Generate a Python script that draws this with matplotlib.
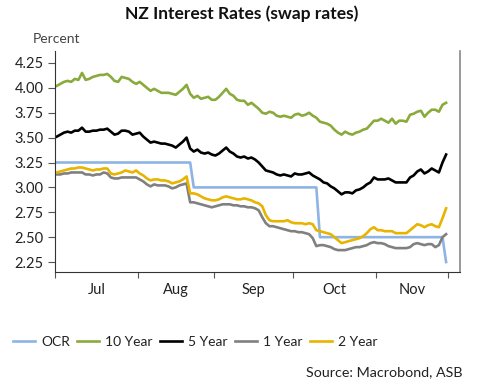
import matplotlib
matplotlib.use("Agg")
import matplotlib.pyplot as plt
import numpy as np
import pandas as pd

# business days, 1 Jul 2025 onwards
dates = pd.bdate_range("2025-07-01", periods=109)

ocr = [3.25] * 38 + [3.00] * 35 + [2.50] * 35 + [2.25] * 1

ten_year = [
    4.02, 4.04, 4.06, 4.07, 4.06, 4.09, 4.08, 4.15, 4.08, 4.09,
    4.11, 4.12, 4.13, 4.13, 4.14, 4.11, 4.07, 4.06, 4.11, 4.10,
    4.09, 4.06, 4.04, 4.06, 4.03, 4.00, 3.97, 3.99, 3.97, 3.95,
    3.95, 3.95, 3.94, 3.93, 3.96, 3.99, 4.03, 3.94, 3.90, 3.92,
    3.89, 3.90, 3.91, 3.88, 3.88, 3.91, 3.95, 3.99, 3.94, 3.92,
    3.88, 3.87, 3.87, 3.83, 3.85, 3.82, 3.79, 3.75, 3.74, 3.76,
    3.75, 3.72, 3.71, 3.72, 3.71, 3.70, 3.73, 3.74, 3.72, 3.73,
    3.75, 3.72, 3.70, 3.66, 3.65, 3.64, 3.62, 3.58, 3.55, 3.53,
    3.56, 3.54, 3.53, 3.55, 3.56, 3.58, 3.59, 3.63, 3.67, 3.67,
    3.69, 3.67, 3.65, 3.69, 3.64, 3.67, 3.67, 3.66, 3.73, 3.74,
    3.76, 3.77, 3.71, 3.75, 3.78, 3.78, 3.76, 3.83, 3.85,
]

five_year = [
    3.51, 3.53, 3.55, 3.56, 3.55, 3.57, 3.57, 3.60, 3.56, 3.56,
    3.57, 3.57, 3.58, 3.58, 3.59, 3.56, 3.53, 3.54, 3.57, 3.57,
    3.56, 3.53, 3.54, 3.55, 3.51, 3.48, 3.45, 3.46, 3.45, 3.44,
    3.44, 3.43, 3.42, 3.40, 3.43, 3.46, 3.50, 3.39, 3.36, 3.38,
    3.35, 3.34, 3.35, 3.33, 3.32, 3.34, 3.37, 3.40, 3.36, 3.34,
    3.31, 3.30, 3.31, 3.29, 3.30, 3.28, 3.25, 3.21, 3.17, 3.16,
    3.15, 3.13, 3.12, 3.13, 3.12, 3.11, 3.14, 3.13, 3.13, 3.14,
    3.15, 3.12, 3.10, 3.08, 3.05, 3.04, 3.01, 2.99, 2.96, 2.93,
    2.95, 2.95, 2.94, 2.97, 2.98, 3.00, 3.03, 3.05, 3.10, 3.08,
    3.08, 3.08, 3.09, 3.07, 3.05, 3.05, 3.05, 3.05, 3.10, 3.12,
    3.16, 3.18, 3.14, 3.16, 3.19, 3.17, 3.15, 3.25, 3.33,
]

one_year = [
    3.13, 3.13, 3.14, 3.14, 3.15, 3.15, 3.15, 3.15, 3.13, 3.13,
    3.12, 3.13, 3.13, 3.15, 3.14, 3.10, 3.09, 3.09, 3.10, 3.10,
    3.10, 3.10, 3.10, 3.08, 3.06, 3.03, 3.01, 3.03, 3.02, 3.02,
    3.02, 3.01, 2.99, 3.00, 3.02, 3.03, 3.04, 2.85, 2.85, 2.84,
    2.83, 2.82, 2.81, 2.80, 2.81, 2.82, 2.83, 2.83, 2.83, 2.82,
    2.82, 2.81, 2.81, 2.80, 2.80, 2.79, 2.77, 2.70, 2.64, 2.61,
    2.61, 2.60, 2.59, 2.58, 2.57, 2.56, 2.56, 2.55, 2.55, 2.54,
    2.53, 2.49, 2.41, 2.42, 2.42, 2.41, 2.40, 2.38, 2.37, 2.37,
    2.37, 2.38, 2.39, 2.40, 2.40, 2.41, 2.42, 2.44, 2.45, 2.44,
    2.44, 2.43, 2.41, 2.40, 2.39, 2.39, 2.39, 2.39, 2.40, 2.43,
    2.44, 2.43, 2.42, 2.43, 2.43, 2.40, 2.42, 2.50, 2.53,
]

two_year = [
    3.15, 3.16, 3.17, 3.18, 3.19, 3.19, 3.20, 3.20, 3.19, 3.18,
    3.17, 3.18, 3.18, 3.19, 3.19, 3.14, 3.13, 3.14, 3.15, 3.17,
    3.16, 3.15, 3.17, 3.14, 3.12, 3.09, 3.07, 3.08, 3.08, 3.07,
    3.07, 3.06, 3.04, 3.05, 3.06, 3.08, 3.11, 2.94, 2.94, 2.93,
    2.91, 2.89, 2.88, 2.87, 2.87, 2.88, 2.90, 2.91, 2.90, 2.89,
    2.88, 2.88, 2.89, 2.88, 2.87, 2.85, 2.84, 2.81, 2.72, 2.67,
    2.66, 2.66, 2.66, 2.66, 2.67, 2.65, 2.64, 2.64, 2.64, 2.63,
    2.64, 2.63, 2.57, 2.56, 2.55, 2.54, 2.53, 2.50, 2.47, 2.44,
    2.45, 2.46, 2.47, 2.48, 2.49, 2.51, 2.54, 2.58, 2.60, 2.57,
    2.57, 2.56, 2.56, 2.56, 2.54, 2.54, 2.54, 2.54, 2.57, 2.60,
    2.63, 2.62, 2.60, 2.62, 2.63, 2.61, 2.60, 2.69, 2.79,
]

series = [
    ("OCR", ocr, "#8EB4E3"),
    ("10 Year", ten_year, "#8AAA3C"),
    ("5 Year", five_year, "#000000"),
    ("1 Year", one_year, "#808080"),
    ("2 Year", two_year, "#E8B400"),
]

plt.rcParams["font.family"] = ["Lato", "DejaVu Sans"]
text_col = "#222222"

fig = plt.figure(figsize=(4.84, 3.83), dpi=100)
ax = fig.add_axes([0.1136, 0.2898, 0.8364, 0.577])

x = np.arange(len(dates))
for name, vals, col in series:
    ax.plot(x, vals, color=col, lw=1.9, label=name, solid_joinstyle="round")

ax.set_xlim(-0.5, 111.8)
ax.set_ylim(2.15, 4.37)
yt = np.arange(2.25, 4.26, 0.25)
ax.set_yticks(yt)
ax.set_yticklabels([f"{v:.2f}" for v in yt])

# month boundaries as ticks, month names centred between them
months = dates.to_period("M")
starts = [i for i in range(len(dates)) if i == 0 or months[i] != months[i - 1]]
bounds = [s - 0.5 for s in starts] + [len(dates) - 0.5]
ax.set_xticks(bounds)
mids = [(bounds[k] + bounds[k + 1]) / 2 for k in range(len(starts))]
ax.set_xticks(mids, minor=True)
ax.set_xticklabels([dates[s].strftime("%b") for s in starts], minor=True)
ax.tick_params(axis="x", which="minor", length=0, pad=8, labelsize=10.5, labelcolor=text_col)
ax.tick_params(axis="x", which="major", length=4, color="#555555", direction="out",
               labelbottom=False)
ax.tick_params(axis="y", length=5, color="#555555", labelsize=10.5, labelcolor=text_col, pad=3)

ax.text((bounds[0] + bounds[-1]) / 2, -0.17, "2025", transform=ax.get_yaxis_transform(),
        ha="center", va="top", fontsize=10.5, color=text_col)
ax.text(-0.054, 1.025, "Percent", transform=ax.transAxes, fontsize=10, color="#444444",
        ha="left", va="bottom")

ax.spines["top"].set_visible(False)
for s in ["left", "bottom"]:
    ax.spines[s].set_color("#333333")
ax.spines["right"].set_color("#888888")
ax.spines["right"].set_linewidth(1.2)

fig.suptitle("NZ Interest Rates (swap rates)", x=0.5, y=0.985, fontsize=12.5, fontweight="bold",
             color="#111111")

fig.legend(loc="center left", bbox_to_anchor=(0.026, 0.107), ncol=5, frameon=False,
           fontsize=10, handlelength=1.6, handletextpad=0.45, columnspacing=0.5,
           labelcolor=text_col, borderaxespad=0, borderpad=0)
fig.text(0.955, 0.028, "Source: Macrobond, ASB", ha="right", va="center", fontsize=10.3,
         color=text_col)

fig.savefig("out.png", dpi=100)
